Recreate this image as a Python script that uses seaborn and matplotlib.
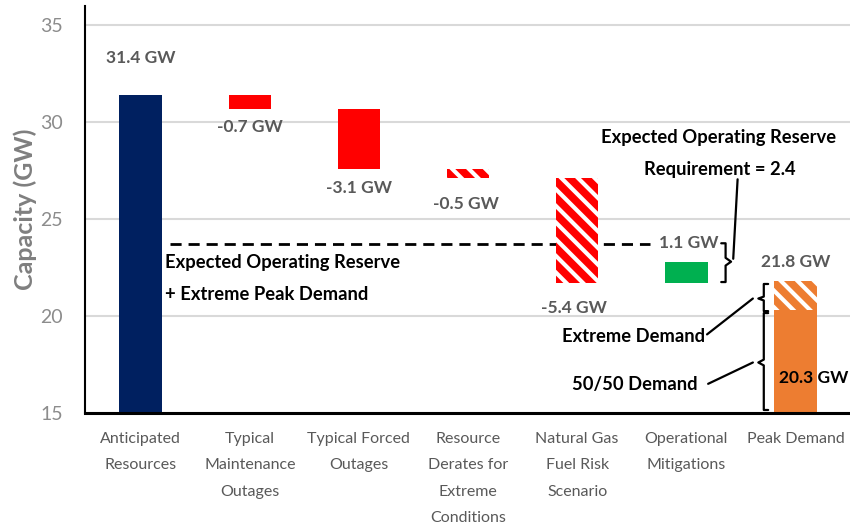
import numpy as np
import matplotlib
matplotlib.use("Agg")
import matplotlib.pyplot as plt
import seaborn as sns

# data
categories = ["Anticipated\nResources", "Typical\nMaintenance\nOutages",
              "Typical Forced\nOutages", "Resource\nDerates for\nExtreme\nConditions",
              "Natural Gas\nFuel Risk\nScenario", "Operational\nMitigations", "Peak Demand"]
changes = [31.4, -0.7, -3.1, -0.5, -5.4, 1.1]
peak_base = 20.3
peak_extreme = 1.5
reserve_line = 23.7
bar_labels = ["31.4 GW", "-0.7 GW", "-3.1 GW", "-0.5 GW", "-5.4 GW", "1.1 GW"]

navy, red, green, orange = "#002060", "#FF0000", "#00B050", "#ED7D31"
gray = "#595959"

sns.set_style("white")
plt.rcParams["font.family"] = ["Lato", "DejaVu Sans"]
plt.rcParams["hatch.linewidth"] = 3
plt.rcParams["hatch.color"] = "white"

# waterfall bottoms / tops
levels = np.cumsum(changes)
starts = np.concatenate([[0], levels[:-1]])
bottoms = list(np.minimum(starts, levels)) + [0]
heights = list(np.abs(changes)) + [peak_base]
bottoms[0] = 0

fig = plt.figure(figsize=(8.5, 5.28), dpi=100)
ax = fig.add_axes([0.1, 0.218, 0.9, 0.771])

colors = [navy, red, red, red, red, green, orange]
sns.barplot(x=categories, y=heights, hue=categories, palette=colors, order=categories,
            width=0.39, legend=False, linewidth=0, saturation=1, ax=ax)
main = list(ax.patches)
for p, b in zip(main, bottoms):
    p.set_y(b)
for i in (3, 4):
    main[i].set_hatch("\\\\")
    main[i].set_edgecolor("white")
    main[i].set_linewidth(0)

# hatched extreme-demand top of the peak bar
sns.barplot(x=[categories[6]], y=[peak_extreme], order=categories, color=orange,
            width=0.39, linewidth=0, saturation=1, ax=ax)
top = ax.patches[-1]
top.set_y(peak_base)
top.set_hatch("\\\\")
top.set_edgecolor("white")
top.set_linewidth(0)

ax.set_xlim(-0.51, 6.5)
ax.set_ylim(15, 36)
ax.set_yticks([15, 20, 25, 30, 35])
ax.yaxis.grid(True, color="#d9d9d9", lw=1.5)
ax.set_axisbelow(True)
sns.despine(ax=ax)
ax.spines["left"].set_linewidth(1.5)
ax.spines["left"].set_color("black")
ax.spines["bottom"].set_linewidth(2.2)
ax.spines["bottom"].set_color("black")
ax.tick_params(axis="y", labelsize=14, labelcolor="#8c8c8c", length=0, pad=16)
ax.tick_params(axis="x", labelsize=11.5, labelcolor=gray, length=0, pad=14)
for t in ax.get_xticklabels():
    t.set_linespacing(2.1)
ax.set_xlabel("")
ax.set_ylabel("Capacity (GW)", fontsize=18, fontweight="bold", color="#7f7f7f", labelpad=2)

# reserve line
ax.plot([0.27, 4.67], [reserve_line, reserve_line], color="black", lw=2,
        dashes=(4, 2.5), zorder=0.8)

# value labels
lab = dict(fontsize=12.5, fontweight="bold", color=gray, ha="center", va="center")
ax.text(0, 33.3, bar_labels[0], **lab)
ax.text(1, 29.75, bar_labels[1], **lab)
ax.text(2, 26.6, bar_labels[2], **lab)
ax.text(2.98, 25.8, bar_labels[3], **lab)
ax.text(3.97, 20.4, bar_labels[4], **lab)
ax.text(5.02, 23.75, bar_labels[5], **lab)
ax.text(6.0, 22.8, "21.8 GW", **lab)
ax.text(5.85, 16.8, "20.3 GW", fontsize=12.5, fontweight="bold", color="black", va="center")

# annotations
ann = dict(fontsize=13.2, fontweight="bold", color="black", va="center")
ax.text(0.22, 22.75, "Expected Operating Reserve", ha="left", **ann)
ax.text(0.22, 21.1, "+ Extreme Peak Demand", ha="left", **ann)
ax.text(5.3, 29.2, "Expected Operating Reserve", ha="center", **ann)
ax.text(5.31, 27.55, "Requirement = 2.4", ha="center", **ann)
ax.text(5.17, 18.95, "Extreme Demand", ha="right", **ann)
ax.text(5.1, 16.45, "50/50 Demand", ha="right", **ann)

k = dict(color="black", lw=1.6, clip_on=False)
# right brace next to the mitigation bar
ax.plot([5.32, 5.36, 5.36, 5.41, 5.36, 5.36, 5.32],
        [23.75, 23.75, 23.0, 22.8, 22.6, 21.75, 21.75], **k)
ax.plot([5.43, 5.47], [22.95, 27.05], **k)
# left braces on the peak demand bar
ax.plot([5.75, 5.71, 5.71, 5.66, 5.71, 5.71, 5.75],
        [21.65, 21.65, 21.0, 20.9, 20.8, 20.25, 20.25], **k)
ax.plot([5.75, 5.71, 5.71, 5.66, 5.71, 5.71, 5.75],
        [20.15, 20.15, 17.75, 17.6, 17.45, 15.15, 15.15], **k)
ax.plot([5.19, 5.61], [19.05, 20.9], **k)
ax.plot([5.2, 5.61], [16.5, 17.6], **k)

fig.savefig("out.png", dpi=100)
